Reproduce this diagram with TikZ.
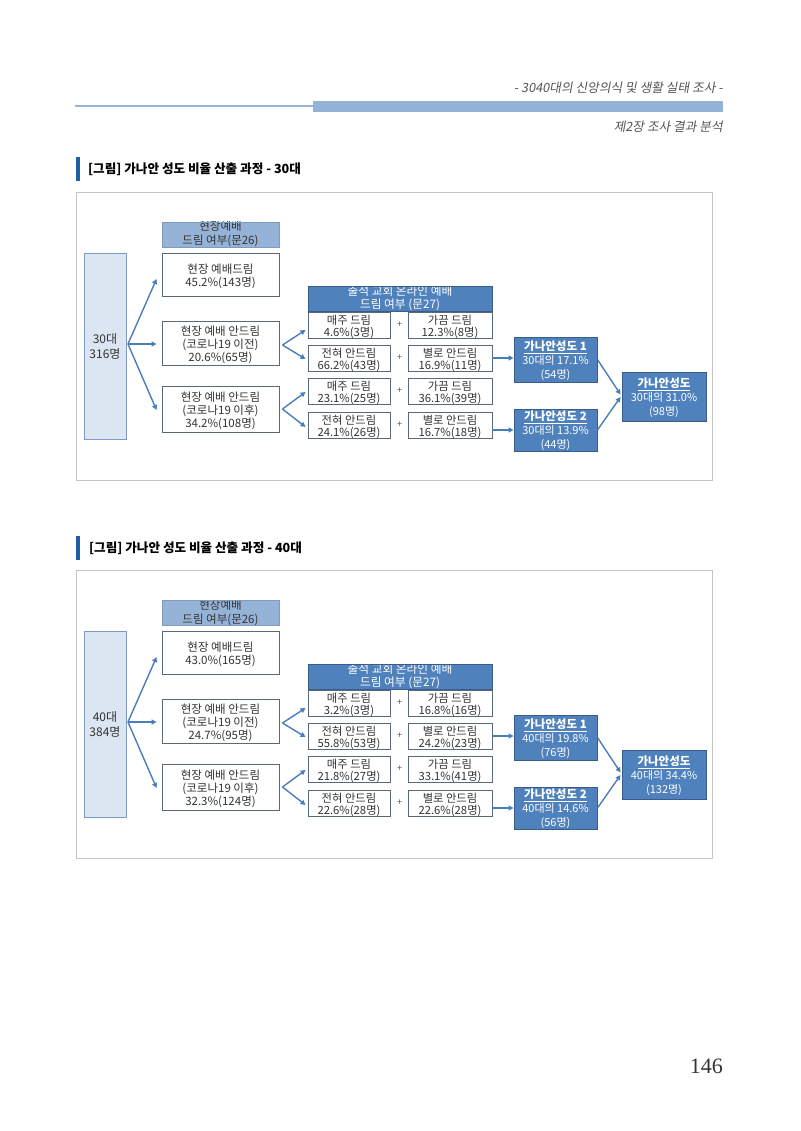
\documentclass[tikz,border=0pt]{standalone}
\usepackage{fontspec}
\setmainfont{Noto Sans CJK KR}
\newfontfamily\hdrfont[FakeSlant=0.18]{Noto Sans CJK KR}
\newfontfamily\numfont{Liberation Serif}
\usetikzlibrary{arrows.meta}
\definecolor{frameC}{HTML}{C4C4C4}
\definecolor{lightB}{HTML}{DCE6F2}
\definecolor{midB}{HTML}{95B3D7}
\definecolor{darkB}{HTML}{4F81BD}
\definecolor{edgeB}{HTML}{385D8A}
\definecolor{boxEdge}{HTML}{5A6878}
\definecolor{ageEdge}{HTML}{7F9CC0}
\definecolor{arrowC}{HTML}{4A7EBB}
\definecolor{txtC}{HTML}{333333}
\definecolor{hdrTxt}{HTML}{555555}
\definecolor{barC}{HTML}{1F5FA8}
\tikzset{
  wbox/.style={draw=boxEdge, line width=0.9pt, fill=white, inner sep=0pt, minimum width=117pt},
  wtxt/.style={align=center, inner sep=0pt, text=txtC, font=\fontsize{11.5}{13}\selectfont, yshift=-1.5pt},
  sbox/.style={draw=boxEdge, line width=0.9pt, fill=white, inner sep=0pt, minimum height=26pt},
  stxt/.style={align=center, inner sep=0pt, text=txtC, font=\fontsize{11.3}{12}\selectfont, yshift=-2.3pt},
  agebox/.style={draw=ageEdge, line width=0.9pt, fill=lightB, inner sep=0pt, align=center,
    text=txtC, font=\fontsize{12}{15}\selectfont},
  hdronefr/.style={draw=ageEdge, line width=0.8pt},
  hdrtwofr/.style={draw=edgeB, line width=0.8pt},
  hdronetxt/.style={inner sep=0pt, anchor=base, text=txtC, font=\fontsize{11.5}{12}\selectfont},
  hdrtwotxt/.style={inner sep=0pt, anchor=base, text=white, font=\fontsize{11.7}{12}\selectfont},
  gbox/.style={draw=edgeB, line width=0.9pt, fill=darkB, inner sep=0pt},
  gtxt/.style={align=center, inner sep=0pt, text=white, font=\fontsize{11}{14}\selectfont, yshift=-1pt},
  arr/.style={draw=arrowC, line width=1.4pt, -{Triangle[length=5pt,width=5pt]}},
  plus/.style={text=hdrTxt, font=\fontsize{9}{9}\selectfont, inner sep=0pt},
  frm/.style={draw=frameC, line width=0.9pt}
}
\newcommand\gtitlefont{\bfseries\fontsize{11.5}{14}\selectfont}
\newcommand\Diag[2]{%
\begin{scope}[yshift=#2]
\draw[frm] (76,192) rectangle (712,480);
\node[agebox, minimum width=42pt, minimum height=186pt] (#1age) at (105,346) {\dgAge};
% header 1 (text clipped by the box, as in the original)
\fill[midB] (162,222) rectangle (279,247);
\begin{scope}
\clip (162,222) rectangle (279,247);
\node[hdronetxt] (#1h1a) at (220.5,231) {현장예배};
\node[hdronetxt] (#1h1b) at (220.5,245) {드림 여부(문26)};
\end{scope}
\draw[hdronefr] (162,222) rectangle (279,247);
\node[wbox, minimum height=43pt, label={[wtxt]center:{\dgBa}}] (#1b1) at (220.5,274.5) {};
\node[wbox, minimum height=44pt, label={[wtxt]center:{\dgBb}}] (#1b2) at (220.5,343) {};
\node[wbox, minimum height=46pt, label={[wtxt]center:{\dgBc}}] (#1b3) at (220.5,409) {};
% header 2
\fill[darkB] (308,286) rectangle (492,311);
\begin{scope}
\clip (308,286) rectangle (492,311);
\node[hdrtwotxt] (#1h2a) at (400,295.5) {출석 교회 온라인 예배};
\node[hdrtwotxt] (#1h2b) at (400,308.5) {드림 여부 (문27)};
\end{scope}
\draw[hdrtwofr] (308,286) rectangle (492,311);
\node[sbox, minimum width=82pt, label={[stxt]center:{\dgRaL}}] (#1raL) at (349,325) {};
\node[sbox, minimum width=84pt, label={[stxt]center:{\dgRaR}}] (#1raR) at (450,325) {};
\node[sbox, minimum width=82pt, label={[stxt]center:{\dgRbL}}] (#1rbL) at (349,358) {};
\node[sbox, minimum width=84pt, label={[stxt]center:{\dgRbR}}] (#1rbR) at (450,358) {};
\node[sbox, minimum width=82pt, label={[stxt]center:{\dgRcL}}] (#1rcL) at (349,391) {};
\node[sbox, minimum width=84pt, label={[stxt]center:{\dgRcR}}] (#1rcR) at (450,391) {};
\node[sbox, minimum width=82pt, label={[stxt]center:{\dgRdL}}] (#1rdL) at (349,425) {};
\node[sbox, minimum width=84pt, label={[stxt]center:{\dgRdR}}] (#1rdR) at (450,425) {};
\node[plus] (#1pa) at (399.5,324.5) {+};
\node[plus] (#1pb) at (399.5,358) {+};
\node[plus] (#1pc) at (399.5,391) {+};
\node[plus] (#1pd) at (399.5,425) {+};
\node[gbox, minimum width=83pt, minimum height=45pt,
  label={[gtxt]center:{{\gtitlefont\underline{가나안성도 1}}\\\dgGa}}] (#1ga) at (555.5,359.5) {};
\node[gbox, minimum width=83pt, minimum height=42pt,
  label={[gtxt]center:{{\gtitlefont\underline{가나안성도 2}}\\\dgGb}}] (#1gb) at (555.5,430) {};
\node[gbox, minimum width=84pt, minimum height=49pt,
  label={[gtxt]center:{{\gtitlefont\underline{가나안성도}}\\\dgGc}}] (#1gc) at (664,396.5) {};
\coordinate (#1fan) at ([xshift=1.5pt,yshift=2pt]#1age.east);
\draw[arr] (#1fan) -- ([xshift=-5pt,yshift=-4.5pt]#1b1.west);
\draw[arr] (#1fan) -- ([xshift=-5pt,yshift=-1pt]#1b2.west);
\draw[arr] (#1fan) -- ([xshift=-5pt,yshift=-1pt]#1b3.west);
\coordinate (#1vb) at ([xshift=3pt,yshift=-2pt]#1b2.east);
\draw[arr] (#1vb) -- ([xshift=-2pt,yshift=-5pt]#1raL.west);
\draw[arr] (#1vb) -- ([xshift=-2pt,yshift=-1pt]#1rbL.west);
\coordinate (#1vc) at ([xshift=3pt]#1b3.east);
\draw[arr] (#1vc) -- ([xshift=-2pt,yshift=-1pt]#1rcL.west);
\draw[arr] (#1vc) -- ([xshift=-2pt,yshift=-2pt]#1rdL.west);
\draw[arr] (#1rbR.east) -- (#1rbR.east -| #1ga.west);
\draw[arr] (#1gb.west -| #1rdR.east) -- (#1gb.west);
\draw[arr] (#1ga.east) -- ([xshift=-1pt,yshift=2pt]#1gc.west);
\draw[arr] (#1gb.east) -- ([xshift=-1pt,yshift=-0.5pt]#1gc.west);
\end{scope}}
\begin{document}
\begin{tikzpicture}[x=1pt,y=-1pt]
\useasboundingbox (0,0) rectangle (800,1131);
\fill[white] (0,0) rectangle (800,1131);
% page header
\node[anchor=east, inner sep=0pt, text=hdrTxt, font=\hdrfont\fontsize{12.7}{13}\selectfont] (runhead) at (723,88) {- 3040대의 신앙의식 및 생활 실태 조사 -};
\draw[midB, line width=2.5pt] (75,106) -- (313,106);
\fill[midB] (313,101) rectangle (723,112);
\node[anchor=east, inner sep=0pt, text=hdrTxt, font=\hdrfont\fontsize{12.7}{13}\selectfont] (chap) at (723,127) {제2장 조사 결과 분석};
% titles
\fill[barC] (76,157) rectangle (80,181);
\node[anchor=west, inner sep=0pt, text=black, font=\bfseries\fontsize{12.6}{14}\selectfont] (ttlA) at (88,169) {[그림] 가나안 성도 비율 산출 과정 - 30대};
\fill[barC] (76,536) rectangle (80,560);
\node[anchor=west, inner sep=0pt, text=black, font=\bfseries\fontsize{12.6}{14}\selectfont] (ttlB) at (89,548) {[그림] 가나안 성도 비율 산출 과정 - 40대};
% diagram 30
\def\dgAge{30대\\316명}
\def\dgBa{현장 예배드림\\45.2\%(143명)}
\def\dgBb{현장 예배 안드림\\(코로나19 이전)\\20.6\%(65명)}
\def\dgBc{현장 예배 안드림\\(코로나19 이후)\\34.2\%(108명)}
\def\dgRaL{매주 드림\\4.6\%(3명)}
\def\dgRaR{가끔 드림\\12.3\%(8명)}
\def\dgRbL{전혀 안드림\\66.2\%(43명)}
\def\dgRbR{별로 안드림\\16.9\%(11명)}
\def\dgRcL{매주 드림\\23.1\%(25명)}
\def\dgRcR{가끔 드림\\36.1\%(39명)}
\def\dgRdL{전혀 안드림\\24.1\%(26명)}
\def\dgRdR{별로 안드림\\16.7\%(18명)}
\def\dgGa{30대의 17.1\%\\(54명)}
\def\dgGb{30대의 13.9\%\\(44명)}
\def\dgGc{30대의 31.0\%\\(98명)}
\Diag{a}{0pt}
% diagram 40
\def\dgAge{40대\\384명}
\def\dgBa{현장 예배드림\\43.0\%(165명)}
\def\dgBb{현장 예배 안드림\\(코로나19 이전)\\24.7\%(95명)}
\def\dgBc{현장 예배 안드림\\(코로나19 이후)\\32.3\%(124명)}
\def\dgRaL{매주 드림\\3.2\%(3명)}
\def\dgRaR{가끔 드림\\16.8\%(16명)}
\def\dgRbL{전혀 안드림\\55.8\%(53명)}
\def\dgRbR{별로 안드림\\24.2\%(23명)}
\def\dgRcL{매주 드림\\21.8\%(27명)}
\def\dgRcR{가끔 드림\\33.1\%(41명)}
\def\dgRdL{전혀 안드림\\22.6\%(28명)}
\def\dgRdR{별로 안드림\\22.6\%(28명)}
\def\dgGa{40대의 19.8\%\\(76명)}
\def\dgGb{40대의 14.6\%\\(56명)}
\def\dgGc{40대의 34.4\%\\(132명)}
\Diag{b}{-378pt}
% page number
\node[anchor=east, inner sep=0pt, text=txtC, font=\numfont\fontsize{22}{24}\selectfont] (pgnum) at (723,1066) {146};
\end{tikzpicture}
\end{document}
